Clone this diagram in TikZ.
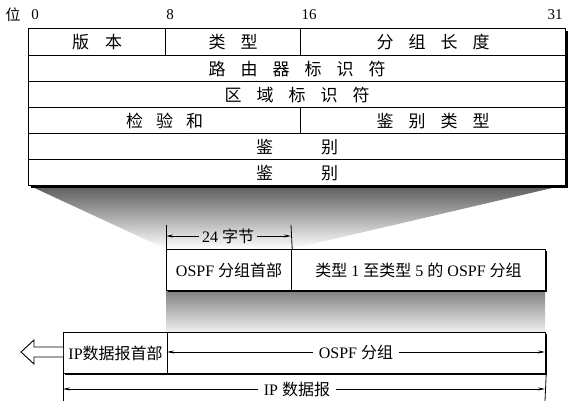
\documentclass[tikz,border=0pt]{standalone}
\usepackage{fontspec}
\setmainfont{Liberation Serif}
\newfontfamily\cjk{Noto Sans CJK SC}
\usetikzlibrary{arrows.meta}
\newcommand{\gp}[1]{\hspace{#1pt}}
\begin{document}
\begin{tikzpicture}[x=1pt,y=-1pt,
  cell/.style={draw, line width=1.2pt, anchor=north west, inner sep=0pt,
    font=\fontsize{17}{19}\selectfont\cjk},
  mix/.style={font=\fontsize{16}{19}\selectfont, inner sep=0pt},
  num/.style={font=\fontsize{15}{17}\selectfont, inner sep=0pt},
  dim/.style={line width=0.8pt, -{Stealth[length=7pt,width=3pt]}},
  tick/.style={line width=0.8pt}]
\useasboundingbox (0,0) rectangle (574,415);

% fans
\shade[top color=black!65, bottom color=white] (28,185) -- (565,185) -- (291,249) -- (166,249) -- cycle;
\shade[top color=black!50, bottom color=black!6] (166,290) rectangle (545,332);

% bit numbers
\node[num] (b0) at (13,15) {\cjk 位};
\node[num] (n0) at (35,15) {0};
\node[num] (n8) at (170,15) {8};
\node[num] (n16) at (309,15) {16};
\node[num] (n31) at (555,15) {31};

% header table
\fill (31,31) rectangle (568,188);
\fill[white] (28,28) rectangle (565,185);
\node[cell, minimum width=137, minimum height=27] (ver) at (28,28) {版\gp{16}本};
\node[cell, minimum width=135, minimum height=27] (typ) at (165,28) {类\gp{15}型};
\node[cell, minimum width=265, minimum height=27] (len) at (300,28) {分\gp{15}组\gp{15}长\gp{15}度};
\node[cell, minimum width=537, minimum height=26] (rid) at (28,55) {路\gp{15}由\gp{15}器\gp{15}标\gp{15}识\gp{15}符};
\node[cell, minimum width=537, minimum height=26] (aid) at (28,81) {区\gp{15}域\gp{15}标\gp{15}识\gp{15}符};
\node[cell, minimum width=272, minimum height=26] (chk) at (28,107) {检\gp{13}验\gp{13}和};
\node[cell, minimum width=265, minimum height=26] (aut) at (300,107) {鉴\gp{15}别\gp{15}类\gp{15}型};
\node[cell, minimum width=537, minimum height=26] (au1) at (28,133) {鉴\gp{48}别};
\node[cell, minimum width=537, minimum height=26] (au2) at (28,159) {鉴\gp{48}别};

% OSPF packet
\fill (168,251) rectangle (547,292);
\node[cell, fill=white, minimum width=125, minimum height=41] (hdr) at (166,249) {};
\node[mix] at (hdr.center) {OSPF {\cjk 分组首部}};
\node[cell, fill=white, minimum width=254, minimum height=41] (body) at (291,249) {};
\node[mix] at (body.center) {{\cjk 类型} 1 {\cjk 至类型} 5 {\cjk 的} OSPF {\cjk 分组}};

% 24 bytes dimension
\draw[tick] (hdr.north west) -- (166,225);
\draw[tick] (hdr.north east) -- (291,225);
\node[mix, inner xsep=3pt] (d24) at (228,236) {24 {\cjk 字节}};
\coordinate (d24l) at (166,236);
\coordinate (d24r) at (291,236);
\draw[dim] (d24.west) -- (d24l);
\draw[dim] (d24.east) -- (d24r);

% IP datagram
\fill (65,334) rectangle (547,375);
\node[cell, fill=white, minimum width=104, minimum height=41] (iph) at (63,332) {};
\node[mix] at (iph.center) {IP{\cjk 数据报首部}};
\node[cell, fill=white, minimum width=378, minimum height=41] (osp) at (167,332) {};
\node[mix, inner xsep=6pt] (og) at (356,352) {OSPF {\cjk 分组}};
\coordinate (ogl) at (167,352);
\coordinate (ogr) at (545,352);
\draw[dim] (og.west) -- (ogl);
\draw[dim] (og.east) -- (ogr);

% hollow arrow
\draw[fill=white, line width=0.9pt] (63,347) -- (34,347) -- (34,340) -- (21,352) -- (34,364) -- (34,357) -- (63,357);

% IP datagram dimension
\draw[tick] (iph.south west) -- (63,401);
\draw[tick] (osp.south east) -- (545,401);
\node[mix, inner xsep=6pt] (ipd) at (297,389) {IP {\cjk 数据报}};
\coordinate (ipl) at (63,389);
\coordinate (ipr) at (545,389);
\draw[dim] (ipd.west) -- (ipl);
\draw[dim] (ipd.east) -- (ipr);
\end{tikzpicture}
\end{document}
